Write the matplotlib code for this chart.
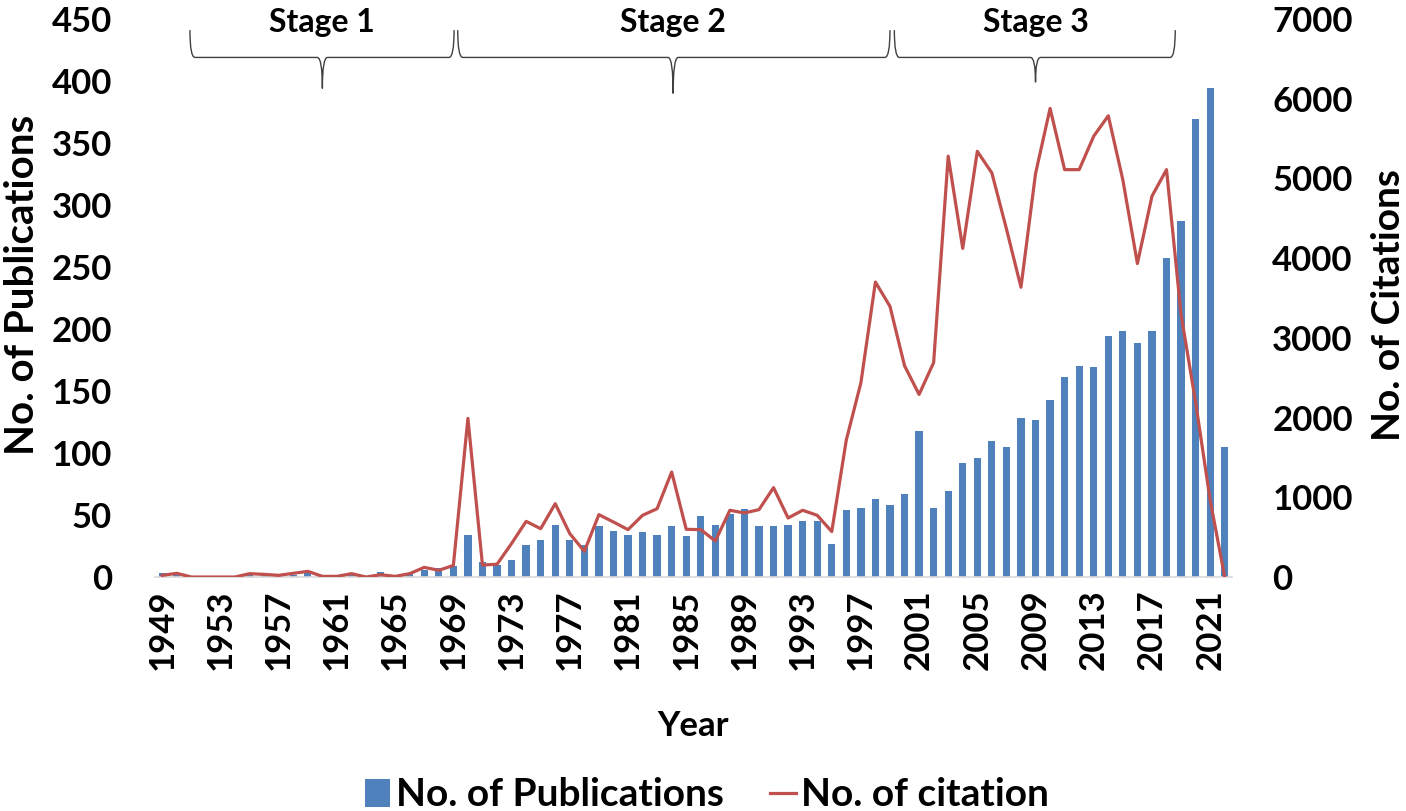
import numpy as np
import matplotlib
matplotlib.use("Agg")
import matplotlib.pyplot as plt
from matplotlib.path import Path
from matplotlib.patches import PathPatch, Patch
from matplotlib.lines import Line2D

plt.rcParams['font.family'] = ['Lato', 'DejaVu Sans']
plt.rcParams['font.weight'] = 'bold'

# data
years = list(range(1949, 2023))
publications = [3, 2, 0, 0, 0, 0, 3, 2, 1, 2,
                4, 0, 0, 2, 0, 4, 1, 3, 6, 7,
                9, 34, 12, 10, 14, 26, 30, 42, 30, 26,
                41, 37, 34, 36, 34, 41, 33, 49, 42, 51,
                55, 41, 41, 42, 45, 45, 27, 54, 56, 63,
                58, 67, 118, 56, 69, 92, 96, 110, 105, 128,
                127, 143, 161, 170, 169, 194, 198, 189, 198, 257,
                287, 369, 394, 105]
citations = [21, 46, 0, 0, 0, 0, 42, 33, 21, 46,
             71, 8, 8, 42, 0, 29, 8, 42, 121, 84,
             145, 1990, 150, 160, 420, 698, 606, 920, 544, 322,
             782, 690, 594, 774, 857, 1317, 598, 594, 452, 837,
             803, 845, 1121, 740, 837, 774, 570, 1720, 2435, 3700,
             3395, 2650, 2290, 2690, 5279, 4122, 5340, 5069, 4368, 3635,
             5059, 5878, 5110, 5110, 5530, 5786, 4982, 3932, 4777, 5110,
             3292, 2191, 963, 0]

# stage braces: (label, start year, end year, tip year, tip height)
stages = [("Stage 1", 1950.9, 1969.05, 1960.0, 394),
          ("Stage 2", 1969.3, 1999.0, 1984.1, 390),
          ("Stage 3", 1999.3, 2018.6, 2009.0, 399)]

BLUE = '#4F81BD'
RED = '#C0504D'

fig = plt.figure(figsize=(14.06, 8.11), dpi=100)
ax = fig.add_axes([155 / 1406, 1 - 577 / 811, 1077 / 1406, 558 / 811])
ax2 = ax.twinx()

ax.bar(years, publications, width=0.5, color=BLUE, zorder=2)
ax2.plot(years, citations, color=RED, lw=2.3, zorder=3)

ax.set_xlim(1948.5, 2022.5)
ax.set_ylim(0, 450)
ax2.set_ylim(0, 7000)
ax.set_yticks(range(0, 451, 50))
ax2.set_yticks(range(0, 7001, 1000))
ax.set_xticks(years[::4])
ax.set_xticklabels([str(y) for y in years[::4]], rotation=90)

for a in (ax, ax2):
    for s in a.spines.values():
        s.set_visible(False)
ax.spines['bottom'].set_visible(True)
ax.spines['bottom'].set_color('#D9D9D9')
ax.spines['bottom'].set_linewidth(1.2)

ax.tick_params(axis='y', length=0, pad=31, labelsize=25)
ax.tick_params(axis='x', length=0, pad=9, labelsize=25)
ax2.tick_params(axis='y', length=0, pad=29, labelsize=25)

ax.set_ylabel("No. of Publications", fontsize=29, fontweight='bold', va='center')
ax.yaxis.set_label_coords(-0.123, 0.523)
ax2.set_ylabel("No. of Citations", fontsize=28, fontweight='bold', va='center')
ax2.yaxis.set_label_coords(1.145, 0.487)
ax.set_xlabel("Year", fontsize=25, fontweight='bold', va='center')
ax.xaxis.set_label_coords(0.4995, -0.267)

# curly braces over the stages
y_top, y_mid = 441, 419
for label, x0, x1, xm, y_tip in stages:
    r = 0.35
    verts = [(x0, y_top), (x0, y_mid), (x0 + r, y_mid),
             (xm - r, y_mid), (xm, y_mid), (xm, y_tip),
             (xm, y_mid), (xm + r, y_mid),
             (x1 - r, y_mid), (x1, y_mid), (x1, y_top)]
    codes = [Path.MOVETO, Path.CURVE3, Path.CURVE3,
             Path.LINETO, Path.CURVE3, Path.CURVE3,
             Path.CURVE3, Path.CURVE3,
             Path.LINETO, Path.CURVE3, Path.CURVE3]
    ax.add_patch(PathPatch(Path(verts, codes), facecolor='none',
                           edgecolor='#404040', lw=1.0, clip_on=False, zorder=4))
    ax.text(xm, 447, label, ha='center', va='center', fontsize=23,
            fontweight='bold', clip_on=False)

handles = [Patch(facecolor=BLUE, edgecolor='none'),
           Line2D([0], [0], color=RED, lw=2.3)]
fig.legend(handles, ["No. of Publications", "No. of citation"], loc='center',
           bbox_to_anchor=(707 / 1406, 1 - 795 / 811), ncol=2, frameon=False,
           handlelength=0.65, handletextpad=0.15, columnspacing=1.2,
           prop={'weight': 'bold', 'size': 28})

fig.savefig("out.png", dpi=100)
